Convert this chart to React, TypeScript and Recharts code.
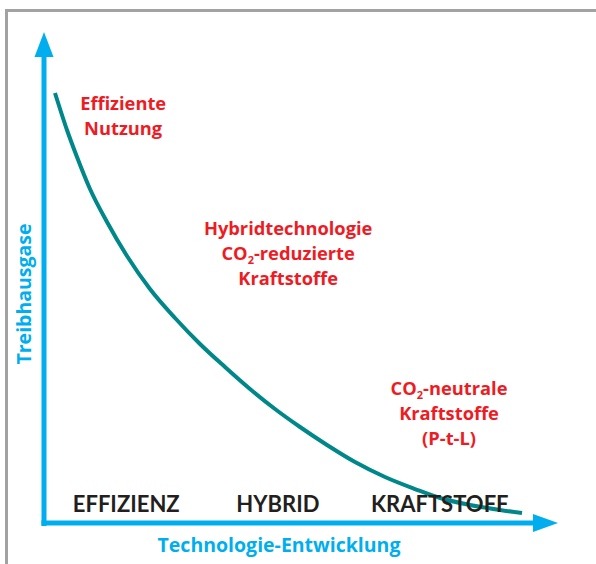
import React from 'react';
import { LineChart, Line, XAxis, YAxis, ReferenceLine, ReferenceDot, Customized } from 'recharts';

// Technology progress (x) vs. greenhouse gas emissions (y), both 0..100
const progress = [2.14, 4.47, 6.42, 8.95, 12.26, 16.15, 20.62, 25.49, 30.35, 35.21, 40.08, 44.94, 49.81, 55.06, 60.51, 66.34, 72.18, 77.04, 82.88, 88.72, 93.0];
const emissions = [87.58, 80.04, 74.54, 68.02, 61.3, 54.38, 47.66, 41.75, 36.46, 31.77, 27.29, 23.22, 19.55, 15.89, 12.42, 9.37, 6.92, 5.09, 3.67, 2.65, 2.04];

const phaseLabels = ['EFFIZIENZ', 'HYBRID', 'KRAFTSTOFF'];
const phaseX = [16.0, 45.5, 77.0];
const phaseY = 2.2;

const noteLines = [
  ['Effiziente', 'Nutzung'],
  ['Hybridtechnologie', 'CO_2-reduzierte', 'Kraftstoffe'],
  ['CO_2-neutrale', 'Kraftstoffe', '(P-t-L)'],
];
const noteX = [15.4, 47.5, 78.8];
const noteY = [84.1, 58.7, 26.1];

const xTitle = 'Technologie-Entwicklung';
const yTitle = 'Treibhausgase';

const data = progress.map((x, i) => ({ x, y: emissions[i] }));

const RED = '#ED1C24';
const BLUE = '#00AEEF';
const TEAL = '#00878A';
const DARK = '#231F20';
const FONT = '"Open Sans", sans-serif';
const CAPS_FONT = 'Lato, "Open Sans", sans-serif';

const renderLine = (line: string) => {
  if (line.includes('_2')) {
    const [a, b] = line.split('_2');
    return (
      <>
        {a}
        <tspan fontSize={11} dy={4}>2</tspan>
        <tspan dy={-4}>{b}</tspan>
      </>
    );
  }
  return line;
};

const noteShape = (lines: string[]) => (props: any) => {
  const { cx, cy } = props;
  return (
    <g>
      {lines.map((l, i) => (
        <text
          key={i}
          x={cx}
          y={cy + i * 25}
          textAnchor="middle"
          fill={RED}
          fontFamily={FONT}
          fontWeight={700}
          fontSize={18.3}
        >
          {renderLine(l)}
        </text>
      ))}
    </g>
  );
};

const phaseShape = (label: string) => (props: any) => {
  const { cx, cy } = props;
  return (
    <text x={cx} y={cy} textAnchor="middle" fill={DARK} fontFamily={CAPS_FONT} fontWeight={700} fontSize={22}>
      {label}
    </text>
  );
};

const xArrow = (props: any) => {
  const { cx, cy } = props;
  return <polygon points={`${cx},${cy} ${cx - 25},${cy - 9} ${cx - 25},${cy + 9}`} fill={BLUE} />;
};
const yArrow = (props: any) => {
  const { cx, cy } = props;
  return <polygon points={`${cx},${cy} ${cx - 9.5},${cy + 25} ${cx + 9.5},${cy + 25}`} fill={BLUE} />;
};

const Titles = () => (
  <g>
    <text x={279} y={552} textAnchor="middle" fill={BLUE} fontFamily={FONT} fontWeight={700} fontSize={19.5}>
      {xTitle}
    </text>
    <text transform="translate(31,294) rotate(-90)" textAnchor="middle" fill={BLUE} fontFamily={FONT} fontWeight={700} fontSize={19.5}>
      {yTitle}
    </text>
  </g>
);

export default function App() {
  return (
    <div style={{ position: 'absolute', left: 0, top: 0, width: 596, height: 564, background: '#fff' }}>
      <div
        style={{
          position: 'absolute',
          left: 5,
          top: 9,
          width: 591,
          height: 555,
          borderLeft: '3px solid #a2a2a2',
          borderTop: '3px solid #a2a2a2',
          boxSizing: 'border-box',
        }}
      />
      <div style={{ position: 'absolute', left: 0, top: 0 }}>
        <LineChart width={596} height={564} data={data} margin={{ top: 32, left: 44, right: 38, bottom: 41 }}>
          <XAxis type="number" dataKey="x" domain={[0, 100]} hide />
          <YAxis type="number" dataKey="y" domain={[0, 100]} hide />
          <ReferenceLine segment={[{ x: -0.5, y: 0 }, { x: 95.2, y: 0 }]} stroke={BLUE} strokeWidth={5} ifOverflow="visible" />
          <ReferenceLine segment={[{ x: 0, y: -0.6 }, { x: 0, y: 94.9 }]} stroke={BLUE} strokeWidth={5} ifOverflow="visible" />
          <ReferenceDot x={100} y={0} r={0} shape={xArrow} ifOverflow="visible" />
          <ReferenceDot x={0} y={100} r={0} shape={yArrow} ifOverflow="visible" />
          <Line type="monotone" dataKey="y" stroke={TEAL} strokeWidth={4} dot={false} isAnimationActive={false} />
          {phaseLabels.map((l, i) => (
            <ReferenceDot key={l} x={phaseX[i]} y={phaseY} r={0} shape={phaseShape(l)} ifOverflow="visible" />
          ))}
          {noteLines.map((lines, i) => (
            <ReferenceDot key={i} x={noteX[i]} y={noteY[i]} r={0} shape={noteShape(lines)} ifOverflow="visible" />
          ))}
          <Customized component={Titles} />
        </LineChart>
      </div>
    </div>
  );
}
